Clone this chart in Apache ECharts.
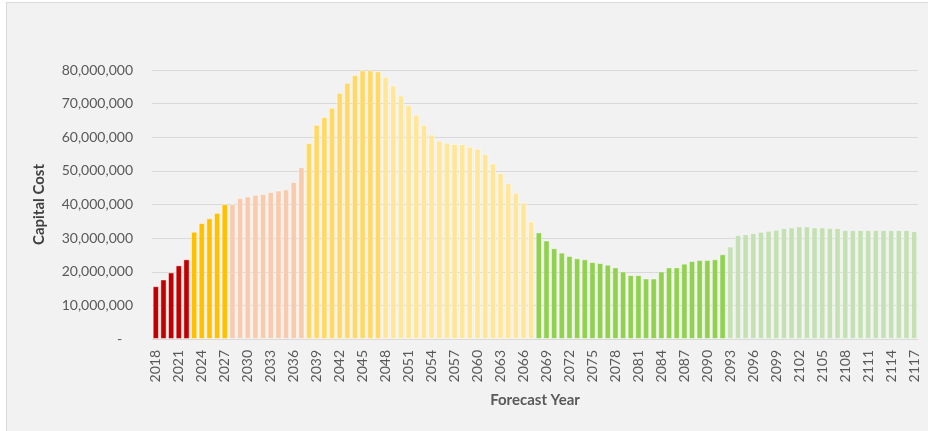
<!DOCTYPE html>
<html>
<head>
<meta charset="utf-8">
<script src="https://cdn.jsdelivr.net/npm/echarts@6/dist/echarts.min.js"></script>
<style>
  html, body { margin: 0; padding: 0; background: #ffffff; }
  .frame {
    position: absolute; left: 6px; top: 2px; width: 930px; height: 440px;
    background: #f2f2f2; border-left: 1px solid #d9d9d9; border-top: 1px solid #d9d9d9;
  }
  #chart { position: absolute; left: 0; top: 0; width: 928px; height: 431px; }
</style>
</head>
<body>
<div class="frame"></div>
<div id="chart"></div>
<script>
// years 2018 - 2117
const years = []
for (let y = 2018; y <= 2117; y++) years.push(String(y))

// capital cost in millions
const costMillions = [
  15.7, 17.7, 19.8, 21.9, 23.7,
  31.9, 34.5, 35.9, 37.5, 40.1,
  40.1, 41.9, 42.4, 42.9, 43.1, 43.7, 44.2, 44.5, 46.7, 51.1,
  58.3, 63.7, 66.0, 68.8, 73.2, 76.2, 78.5, 79.9, 79.9, 79.6,
  78.0, 75.4, 72.4, 69.5, 66.7, 63.7, 60.8, 59.0, 58.4, 58.0,
  58.0, 57.2, 56.6, 55.0, 52.2, 49.4, 46.3, 43.5, 40.6, 35.0,
  31.7, 29.3, 27.0, 25.7, 24.7, 24.0, 23.7, 22.9, 22.6, 22.1,
  21.3, 20.1, 19.0, 19.0, 18.0, 18.0, 20.1, 21.3, 21.3, 22.4,
  23.2, 23.5, 23.5, 23.7, 25.2,
  27.5, 30.9, 31.2, 31.5, 31.9, 32.2, 32.5, 33.0, 33.2, 33.5,
  33.5, 33.2, 33.2, 33.0, 33.0, 32.4, 32.4, 32.4, 32.4, 32.4,
  32.4, 32.4, 32.4, 32.4, 32.1
]

// colour bands: [first year, last year, colour]
const bands = [
  [2018, 2022, '#c00000'],
  [2023, 2027, '#ffc000'],
  [2028, 2037, '#f8cbad'],
  [2038, 2047, '#ffd966'],
  [2048, 2067, '#ffe699'],
  [2068, 2092, '#92d050'],
  [2093, 2117, '#c5e0b4']
]

function bandColor(year) {
  for (const b of bands) {
    if (year >= b[0] && year <= b[1]) return b[2]
  }
  return '#999'
}

const barData = costMillions.map((v, i) => ({
  value: Math.round(v * 1000000),
  itemStyle: { color: bandColor(2018 + i) }
}))

const font = 'Lato, "Open Sans", sans-serif'

const chart = echarts.init(document.getElementById('chart'))
chart.setOption({
  backgroundColor: 'transparent',
  animation: false,
  grid: { left: 152, right: 10, top: 70, bottom: 92, outerBoundsMode: 'none' },
  xAxis: {
    type: 'category',
    data: years,
    name: 'Forecast Year',
    nameLocation: 'middle',
    nameGap: 54,
    nameTextStyle: { fontFamily: font, fontSize: 15, fontWeight: 'bold', color: '#595959' },
    axisLine: { lineStyle: { color: '#d9d9d9' } },
    axisTick: { show: false },
    axisLabel: {
      interval: 2,
      rotate: 90,
      margin: 11,
      fontFamily: font,
      fontSize: 14,
      color: '#595959'
    }
  },
  yAxis: {
    type: 'value',
    min: 0,
    max: 80000000,
    interval: 10000000,
    name: 'Capital Cost',
    nameLocation: 'middle',
    nameGap: 105,
    nameTextStyle: { fontFamily: font, fontSize: 15, fontWeight: 'bold', color: '#404040' },
    axisLine: { show: false },
    axisTick: { show: false },
    splitLine: { lineStyle: { color: '#d9d9d9' } },
    axisLabel: {
      margin: 19,
      fontFamily: font,
      fontSize: 14,
      color: '#595959',
      formatter: (v) => v === 0 ? '-   ' : v.toLocaleString('en-US')
    }
  },
  series: [
    {
      type: 'bar',
      data: barData,
      barCategoryGap: '18%',
      itemStyle: { borderColor: 'rgba(255,255,255,0.45)', borderWidth: 1 }
    }
  ]
})
</script>
</body>
</html>
